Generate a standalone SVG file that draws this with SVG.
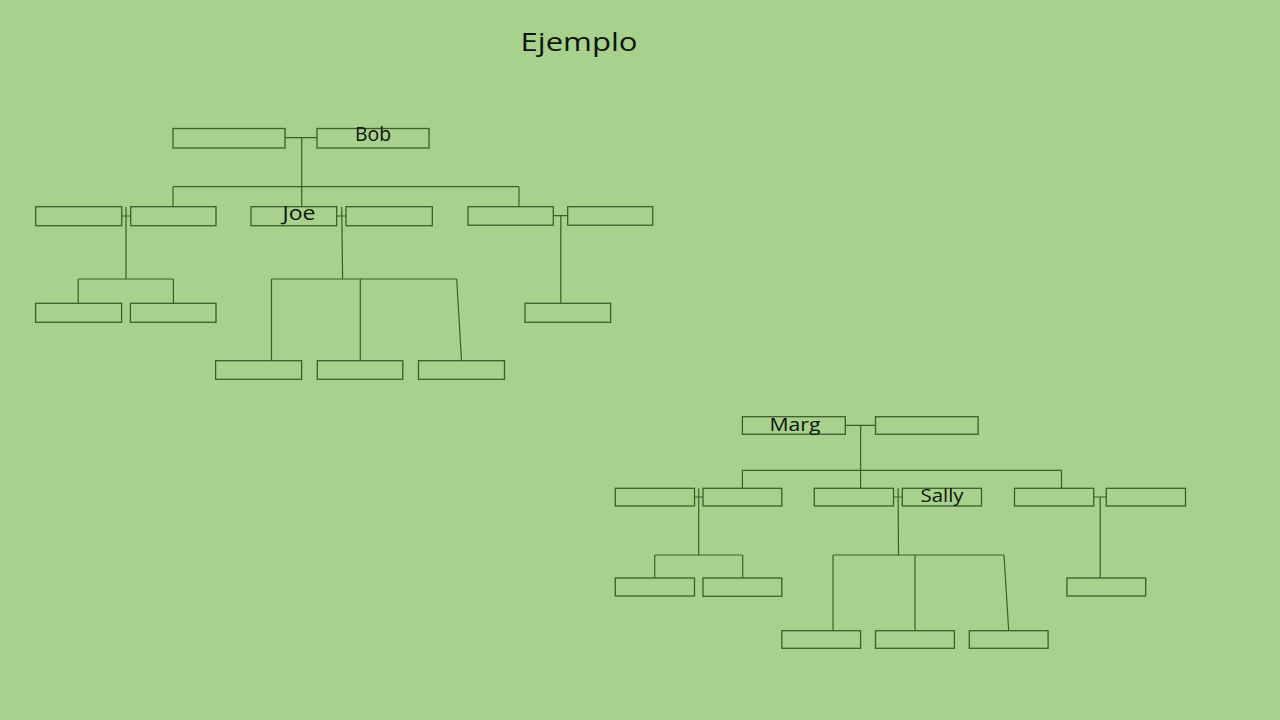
<svg xmlns="http://www.w3.org/2000/svg" width="1280" height="720" viewBox="0 0 1280 720">
<style>
.b{fill:none;stroke:#3b5e2b;stroke-width:1.3}
.c{fill:none;stroke:#3b5e2b;stroke-width:1.2}
.t{font-family:"Open Sans","Liberation Sans",sans-serif;fill:#0c140a}
</style>
<rect width="1280" height="720" fill="#a9d18e"/>
<text class="t" x="520.5" y="51" font-size="25" textLength="117" lengthAdjust="spacingAndGlyphs">Ejemplo</text>

<g id="connectors" class="c">
<!-- top tree -->
<path d="M285 137.7H317M301.7 137.7V207"/>
<path d="M173 186.7H519M173 186.7V207M519 186.7V207"/>
<path d="M121.7 216H130.7M126 207V279M78.2 279H173.4M78.2 279V303.3M173.4 279V303.3"/>
<path d="M336.7 216H346M341.7 207L342.6 279M271.5 279H456.7M271.5 279V360.7M360.3 279V360.7M456.7 279L461.5 360.7"/>
<path d="M553.3 215.7H567.7M560.8 215.7V303.3"/>
<!-- bottom tree -->
<path d="M845.3 425.3H875.5M860.6 425.3V488.3"/>
<path d="M742.4 470.3H1061.5M742.4 470.3V488.3M1061.5 470.3V488.3"/>
<path d="M694.5 497H703M698.7 488.3V555M654.7 555H742.7M654.7 555V578M742.7 555V578"/>
<path d="M893.5 497H902.3M898.1 488.3L898.5 555M833 555H1004M833 555V630.7M915 555V630.7M1004 555L1008.7 630.7"/>
<path d="M1093.7 497H1106.3M1100.2 497V578"/>
</g>

<g id="n-top-spouse"><rect class="b" x="173" y="128.5" width="112" height="19.5"/></g>
<g id="n-bob"><rect class="b" x="317" y="128.5" width="112" height="19.5"/><text class="t" x="355" y="141.3" font-size="20" textLength="36" lengthAdjust="spacingAndGlyphs">Bob</text></g>

<g id="n-r2-1"><rect class="b" x="35.7" y="206.7" width="86" height="19"/></g>
<g id="n-r2-2"><rect class="b" x="130.7" y="206.7" width="85.3" height="19"/></g>
<g id="n-joe"><rect class="b" x="251" y="206.7" width="85.7" height="19"/><text class="t" x="282.5" y="220" font-size="20" textLength="33" lengthAdjust="spacingAndGlyphs">Joe</text></g>
<g id="n-r2-4"><rect class="b" x="346" y="206.7" width="86.3" height="19"/></g>
<g id="n-r2-5"><rect class="b" x="468" y="206.7" width="85.3" height="18.5"/></g>
<g id="n-r2-6"><rect class="b" x="567.7" y="206.7" width="85" height="18.5"/></g>

<g id="n-r3-1"><rect class="b" x="35.6" y="303.3" width="86" height="19"/></g>
<g id="n-r3-2"><rect class="b" x="130.4" y="303.3" width="85.6" height="19"/></g>
<g id="n-r3-3"><rect class="b" x="525" y="303.3" width="85.6" height="19"/></g>

<g id="n-r4-1"><rect class="b" x="215.6" y="360.7" width="86" height="18.6"/></g>
<g id="n-r4-2"><rect class="b" x="317.3" y="360.7" width="85.5" height="18.6"/></g>
<g id="n-r4-3"><rect class="b" x="418.5" y="360.7" width="86" height="18.6"/></g>

<g id="n-marg"><rect class="b" x="742.4" y="416.7" width="102.9" height="17.6"/><text class="t" x="769.5" y="431" font-size="19" textLength="51" lengthAdjust="spacingAndGlyphs">Marg</text></g>
<g id="n-marg-spouse"><rect class="b" x="875.5" y="416.7" width="102.6" height="17.6"/></g>

<g id="n-b2-1"><rect class="b" x="615.3" y="488.3" width="79.2" height="17.7"/></g>
<g id="n-b2-2"><rect class="b" x="703" y="488.3" width="78.8" height="17.7"/></g>
<g id="n-b2-3"><rect class="b" x="814.3" y="488.3" width="79.2" height="17.7"/></g>
<g id="n-sally"><rect class="b" x="902.3" y="488.3" width="79.2" height="17.7"/><text class="t" x="920.5" y="502.3" font-size="19" textLength="43" lengthAdjust="spacingAndGlyphs">Sally</text></g>
<g id="n-b2-5"><rect class="b" x="1014.5" y="488.3" width="79.2" height="17.7"/></g>
<g id="n-b2-6"><rect class="b" x="1106.3" y="488.3" width="79.2" height="17.7"/></g>

<g id="n-b3-1"><rect class="b" x="615.3" y="578" width="79.2" height="18"/></g>
<g id="n-b3-2"><rect class="b" x="703" y="578" width="78.8" height="18.3"/></g>
<g id="n-b3-3"><rect class="b" x="1066.9" y="578" width="78.8" height="18"/></g>

<g id="n-b4-1"><rect class="b" x="781.8" y="630.7" width="78.8" height="17.6"/></g>
<g id="n-b4-2"><rect class="b" x="875.5" y="630.7" width="78.9" height="17.6"/></g>
<g id="n-b4-3"><rect class="b" x="969.3" y="630.7" width="78.8" height="17.6"/></g>
</svg>
